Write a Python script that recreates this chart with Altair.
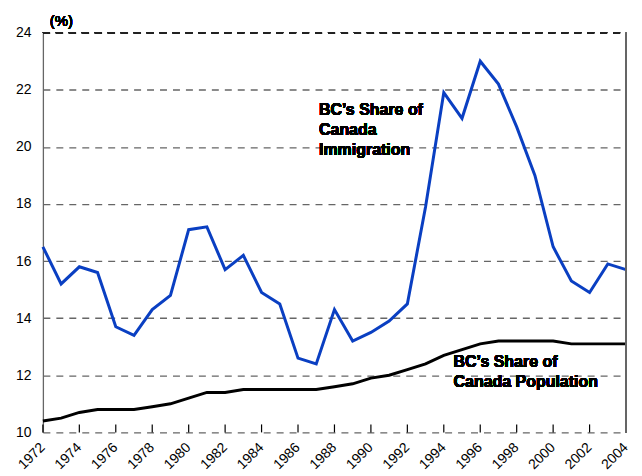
import altair as alt
import pandas as pd

years = list(range(1972, 2005))
immigration = [16.5, 15.2, 15.8, 15.6, 13.7, 13.4, 14.3, 14.8, 17.1, 17.2,
               15.7, 16.2, 14.9, 14.5, 12.6, 12.4, 14.3, 13.2, 13.5, 13.9,
               14.5, 17.9, 21.9, 21.0, 23.0, 22.2, 20.7, 19.0, 16.5, 15.3,
               14.9, 15.9, 15.7]
population = [10.4, 10.5, 10.7, 10.8, 10.8, 10.8, 10.9, 11.0, 11.2, 11.4,
              11.4, 11.5, 11.5, 11.5, 11.5, 11.5, 11.6, 11.7, 11.9, 12.0,
              12.2, 12.4, 12.7, 12.9, 13.1, 13.2, 13.2, 13.2, 13.2, 13.1,
              13.1, 13.1, 13.1]
series_names = ["Immigration", "Population"]
series_colors = ["#0a3fc2", "#000000"]
tick_years = list(range(1972, 2005, 2))
y_ticks = list(range(10, 25, 2))

df = pd.DataFrame({
    "year": years * 2,
    "value": immigration + population,
    "series": [series_names[0]] * len(years) + [series_names[1]] * len(years),
})
ticks_df = pd.DataFrame({"year": tick_years, "label": [str(y) for y in tick_years]})

W, H = 585, 401
FONT = "Liberation Sans"

x_scale = alt.Scale(domain=[1972, 2004], nice=False, zero=False)

lines = alt.Chart(df).mark_line(strokeWidth=3).encode(
    x=alt.X("year:Q", scale=x_scale,
            axis=alt.Axis(values=tick_years, labels=False,
                          grid=False, ticks=False, domainColor="#000000",
                          domainWidth=1.5, title=None)),
    y=alt.Y("value:Q",
            scale=alt.Scale(domain=[10, 24], nice=False, zero=False),
            axis=alt.Axis(values=y_ticks, grid=True, gridDash=[7, 6],
                          gridColor="#666666", gridWidth=1.3, ticks=False,
                          domainColor="#666666", domainWidth=1.3,
                          labelFontSize=14, labelPadding=12,
                          labelColor="#000000", title=None, labelFont=FONT)),
    color=alt.Color("series:N",
                    scale=alt.Scale(domain=series_names, range=series_colors),
                    legend=None),
)

inner_ticks = alt.Chart(ticks_df).mark_rule(color="#000000", strokeWidth=1.2).encode(
    x=alt.X("year:Q", scale=x_scale, axis=None),
    y=alt.value(H), y2=alt.value(H - 8)
)

x_labels = alt.Chart(ticks_df).mark_text(
    angle=315, align="right", baseline="middle", fontSize=14, font=FONT,
    color="#000000"
).encode(
    x=alt.X("year:Q", scale=x_scale, axis=None),
    y=alt.value(H + 13),
    text=alt.Text("label:N"),
)

top_line = alt.Chart(ticks_df).mark_rule(
    color="#222222", strokeWidth=1.3, strokeDash=[7, 6]
).encode(
    x=alt.value(0), x2=alt.value(W), y=alt.value(0)
)

right_border = alt.Chart(ticks_df).mark_rule(color="#666666", strokeWidth=1.3).encode(
    x=alt.value(W), y=alt.value(0), y2=alt.value(H)
)

label_imm = alt.Chart(ticks_df).mark_text(
    align="left", baseline="alphabetic", fontSize=16, fontWeight="bold",
    lineHeight=20, font=FONT, color="#000000"
).encode(
    x=alt.value(277), y=alt.value(83),
    text=alt.value(["BC’s Share of", "Canada", "Immigration"]),
)

label_pop = alt.Chart(ticks_df).mark_text(
    align="left", baseline="alphabetic", fontSize=16, fontWeight="bold",
    lineHeight=20, font=FONT, color="#000000"
).encode(
    x=alt.value(412), y=alt.value(335),
    text=alt.value(["BC’s Share of", "Canada Population"]),
)

unit = alt.Chart(ticks_df).mark_text(
    align="left", baseline="alphabetic", fontSize=15, fontWeight="normal",
    font=FONT, color="#000000"
).encode(
    x=alt.value(7), y=alt.value(-7), text=alt.value("(%)")
)

chart = alt.layer(lines, inner_ticks, x_labels, top_line, right_border,
                  label_imm, label_pop, unit).properties(
    width=W, height=H,
    autosize=alt.AutoSizeParams(type="none"),
    padding={"left": 35, "top": 24, "right": 8, "bottom": 40},
).configure_view(stroke=None)

chart.save("out.html", embed_options={"renderer": "svg", "actions": False})
